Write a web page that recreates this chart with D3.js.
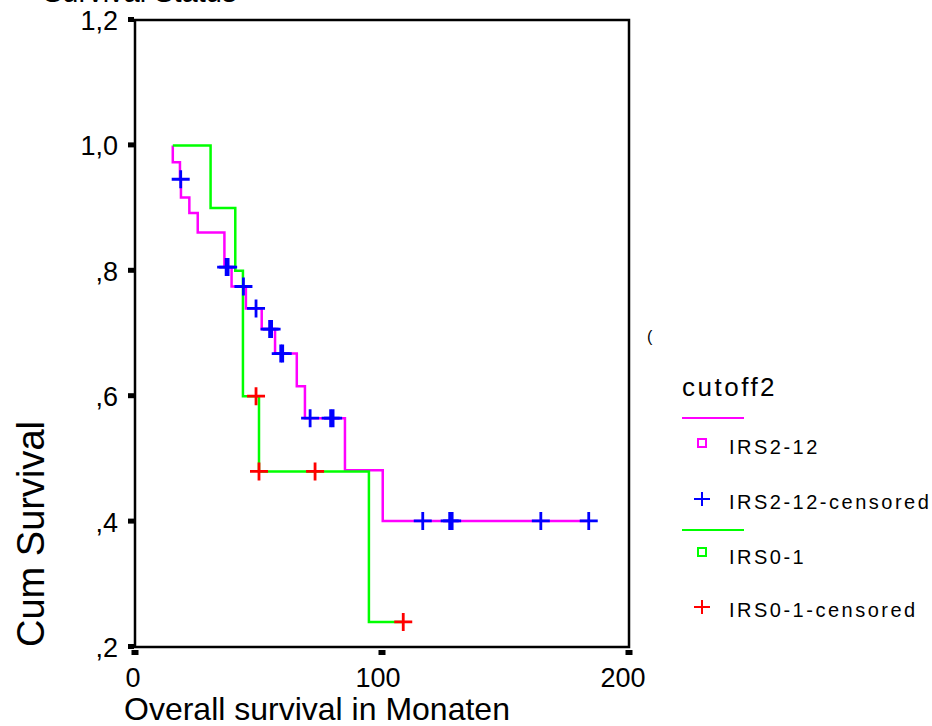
<!DOCTYPE html>
<html><head><meta charset="utf-8">
<script src="https://cdn.jsdelivr.net/npm/d3@7"></script>
<style>
html,body{margin:0;padding:0;background:#fff;}
svg{display:block;font-family:"Liberation Sans",Arial,sans-serif;}
</style></head>
<body>
<script>
// ---- data ----
const xTicks = [0, 100, 200];
const yTicks = [0.2, 0.4, 0.6, 0.8, 1.0, 1.2];
const yTickLabels = [",2", ",4", ",6", ",8", "1,0", "1,2"];
const groupNames = ["IRS2-12", "IRS2-12-censored", "IRS0-1", "IRS0-1-censored"];

// IRS2-12 step curve (time, survival after time)
const irs212Times = [15.3, 15.3, 18.2, 18.6, 22.0, 25.4, 36.2, 39.1, 44.9, 51.3, 56.7, 65.5, 68.8, 85.0, 100.3, 183.7];
const irs212Surv  = [1.0, 0.973, 0.946, 0.917, 0.892, 0.861, 0.806, 0.775, 0.740, 0.707, 0.668, 0.616, 0.565, 0.482, 0.401, 0.401];
// IRS2-12 censored
const irs212CensTimes = [18.5, 36.9, 37.7, 43.9, 49.0, 54.5, 55.3, 59.0, 59.8, 70.9, 79.2, 80.2, 116.5, 127.4, 128.4, 164.3, 183.7];
const irs212CensSurv  = [0.946, 0.806, 0.806, 0.775, 0.740, 0.707, 0.707, 0.668, 0.668, 0.565, 0.565, 0.565, 0.401, 0.401, 0.401, 0.401, 0.401];

// IRS0-1 step curve
const irs01Times = [15.3, 30.6, 40.6, 43.7, 50.2, 94.7, 108.6];
const irs01Surv  = [1.0, 0.9, 0.8, 0.6, 0.48, 0.24, 0.24];
// IRS0-1 censored
const irs01CensTimes = [49.0, 50.2, 72.9, 108.6];
const irs01CensSurv  = [0.6, 0.48, 0.48, 0.24];

const W = 932, H = 726;
const svg = d3.select("body").append("svg").attr("width", W).attr("height", H);

const x = d3.scaleLinear().domain([0, 200]).range([135, 629]);
const y = d3.scaleLinear().domain([0.2, 1.2]).range([647, 20]);

// title (cropped at top edge, as in the reference)
svg.append("text").attr("x", 43).attr("y", 2).attr("font-size", 29).text("Survival Status");

// frame
svg.append("rect").attr("x", x(0)).attr("y", y(1.2))
  .attr("width", x(200) - x(0)).attr("height", y(0.2) - y(1.2))
  .attr("fill", "none").attr("stroke", "#000").attr("stroke-width", 2.5);

// y ticks (small squares) and labels
yTicks.forEach((v, i) => {
  svg.append("rect").attr("x", x(0) - 7).attr("y", y(v) - 3).attr("width", 6).attr("height", 5).attr("fill", "#000");
  svg.append("text").attr("x", 118).attr("y", y(v) + 10).attr("text-anchor", "end")
    .attr("font-size", 27).text(yTickLabels[i]);
});
// x ticks and labels
xTicks.forEach(v => {
  svg.append("rect").attr("x", x(v) - 3.5).attr("y", 650).attr("width", 7).attr("height", 5).attr("fill", "#000");
  svg.append("text").attr("x", x(v) - 2 - v * 0.02).attr("y", 687).attr("text-anchor", "middle")
    .attr("font-size", 27).text(v);
});

// axis titles
svg.append("text").attr("x", 124).attr("y", 720).attr("font-size", 32).text("Overall survival in Monaten");
svg.append("text").attr("transform", "translate(44,534) rotate(-90)").attr("text-anchor", "middle")
  .attr("font-size", 38).text("Cum Survival");

// curves
const line = d3.line().x(d => x(d[0])).y(d => y(d[1])).curve(d3.curveStepAfter);
svg.append("path").attr("d", line(irs212Times.map((t, i) => [t, irs212Surv[i]])))
  .attr("fill", "none").attr("stroke", "#ff00ff").attr("stroke-width", 2.5);
svg.append("path").attr("d", line(irs01Times.map((t, i) => [t, irs01Surv[i]])))
  .attr("fill", "none").attr("stroke", "#00ff00").attr("stroke-width", 2.5);

function plus(cx, cy, color, hw, hh, sw) {
  svg.append("path").attr("d", `M${cx - hw},${cy}H${cx + hw}M${cx},${cy - hh}V${cy + hh}`)
    .attr("stroke", color).attr("stroke-width", sw).attr("fill", "none");
}
irs212CensTimes.forEach((t, i) => plus(x(t), y(irs212CensSurv[i]), "#0000ff", 9, 9, 2.8));
irs01CensTimes.forEach((t, i) => plus(x(t), y(irs01CensSurv[i]), "#ff0000", 9, 9, 2.8));

// stray glyph
svg.append("text").attr("x", 647).attr("y", 342).attr("font-size", 16).text("(");

// legend
svg.append("text").attr("x", 682).attr("y", 396).attr("font-size", 26).attr("letter-spacing", 2.5).text("cutoff2");
const lg = svg.append("g").attr("font-size", 20).attr("letter-spacing", 2.5);
lg.append("line").attr("x1", 682).attr("x2", 744).attr("y1", 418).attr("y2", 418).attr("stroke", "#ff00ff").attr("stroke-width", 2);
lg.append("rect").attr("x", 698).attr("y", 439).attr("width", 8).attr("height", 8).attr("fill", "none").attr("stroke", "#ff00ff").attr("stroke-width", 2);
lg.append("text").attr("x", 729).attr("y", 454).text(groupNames[0]);
plus(702, 499, "#0000ff", 8, 7, 2);
lg.append("text").attr("x", 729).attr("y", 509).text(groupNames[1]);
lg.append("line").attr("x1", 682).attr("x2", 744).attr("y1", 530).attr("y2", 530).attr("stroke", "#00ff00").attr("stroke-width", 2);
lg.append("rect").attr("x", 698).attr("y", 548).attr("width", 8).attr("height", 8).attr("fill", "none").attr("stroke", "#00ff00").attr("stroke-width", 2);
lg.append("text").attr("x", 729).attr("y", 564).text(groupNames[2]);
plus(702, 607, "#ff0000", 8, 7, 2);
lg.append("text").attr("x", 729).attr("y", 617).text(groupNames[3]);
</script>
</body></html>
